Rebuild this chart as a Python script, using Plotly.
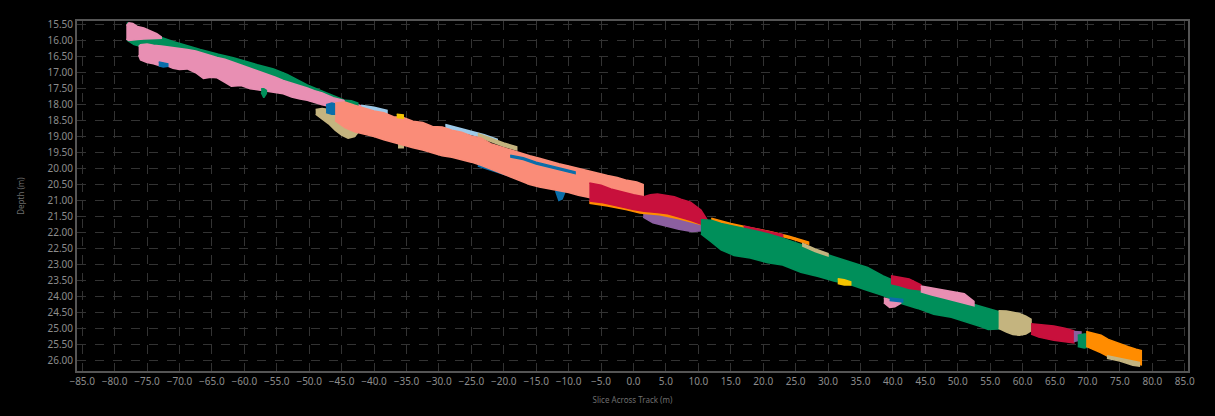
import plotly.graph_objects as go

# ---- swath segments (x in m, top / bottom depth in m) ----
G1_X = [-78.1, -77.0, -75.5, -73.0, -71.0, -69.4, -66.8, -64.0, -61.7, -58.0, -55.5, -53.4, -50.3, -47.5, -44.7]
G1_TOP = [15.43, 15.7, 15.82, 15.88, 16.02, 16.12, 16.27, 16.42, 16.53, 16.75, 16.88, 17.05, 17.38, 17.62, 17.85]
G1_BOT = [15.98, 16.12, 16.2, 16.25, 16.33, 16.38, 16.53, 16.68, 16.83, 17.03, 17.18, 17.33, 17.58, 17.82, 18.02]

P1_X = [-78.2, -77.8, -77.2, -76.5, -75.5, -74.5, -73.5, -72.8]
P1_TOP = [15.52, 15.44, 15.46, 15.55, 15.6, 15.7, 15.78, 15.88]
P1_BOT = [15.95, 15.99, 15.97, 15.96, 15.94, 15.93, 15.93, 15.92]

P2_X = [-76.3, -76.0, -75.0, -74.0, -72.8, -71.9, -71.0, -70.0, -68.8, -67.5, -66.3, -65.2, -64.2, -63.0, -62.0,
        -60.5, -59.1, -57.8, -56.5, -55.2, -54.0, -52.7, -51.4, -50.3, -49.2, -48.0, -46.3, -44.0, -42.1]
P2_TOP = [16.18, 16.12, 16.1, 16.14, 16.16, 16.18, 16.2, 16.22, 16.27, 16.32, 16.4, 16.45, 16.52, 16.58, 16.66,
          16.76, 16.86, 16.95, 17.04, 17.14, 17.24, 17.32, 17.4, 17.48, 17.56, 17.63, 17.78, 17.9, 18.03]
P2_BOT = [16.45, 16.6, 16.68, 16.72, 16.8, 16.78, 16.86, 16.9, 16.88, 17.0, 17.18, 17.14, 17.16, 17.3, 17.42,
          17.4, 17.5, 17.55, 17.6, 17.62, 17.66, 17.76, 17.82, 17.86, 17.92, 18.0, 18.08, 18.15, 18.2]

B0_X = [-73.2, -72.5, -71.8]
B0_TOP = [16.66, 16.68, 16.72]
B0_BOT = [16.78, 16.82, 16.8]

G0_X = [-57.4, -57.0, -56.6]
G0_TOP = [17.5, 17.5, 17.55]
G0_BOT = [17.62, 17.78, 17.65]

T1_X = [-49.0, -48.0, -47.0, -46.0, -45.0, -44.0, -43.0, -42.2]
T1_TOP = [18.15, 18.12, 18.15, 18.2, 18.25, 18.3, 18.35, 18.45]
T1_BOT = [18.3, 18.45, 18.6, 18.8, 18.95, 19.05, 19.0, 18.8]

S_X = [-46, -44.5, -43, -41.5, -40, -38.5, -37, -35.5, -34, -32.5, -31, -29.5, -28, -26.5, -25, -23.5, -22,
       -20.5, -19, -17.5, -16, -14.5, -13, -11.5, -10, -8.5, -7, -5.5, -4, -2.5, -1, 0.5, 1.5]
S_TOP = [17.95, 17.92, 18.02, 18.1, 18.2, 18.25, 18.38, 18.4, 18.52, 18.56, 18.68, 18.7, 18.8, 18.86, 18.98, 19.04,
         19.22, 19.32, 19.42, 19.5, 19.6, 19.68, 19.77, 19.85, 19.92, 20.0, 20.08, 20.14, 20.22, 20.28, 20.37, 20.42, 20.5]
S_BOT = [18.5, 18.72, 18.85, 18.93, 19.0, 19.1, 19.2, 19.27, 19.35, 19.42, 19.5, 19.6, 19.65, 19.72, 19.8, 19.9,
         20.0, 20.14, 20.25, 20.38, 20.5, 20.58, 20.65, 20.7, 20.75, 20.84, 20.9, 20.97, 21.0, 21.03, 21.05, 21.02, 20.9]

T2_X = [-36.3, -35.5]
T2_TOP = [19.0, 19.0]
T2_BOT = [19.35, 19.35]

B1_X = [-47.4, -46.5, -45.5, -44.8]
B1_TOP = [18.0, 17.95, 18.0, 18.1]
B1_BOT = [18.25, 18.3, 18.3, 18.2]

G2_X = [-44.5, -43.5, -42.5]
G2_TOP = [17.86, 17.88, 17.95]
G2_BOT = [18.02, 18.05, 18.06]

LB1_X = [-42, -40, -38]
LB1_TOP = [18.02, 18.08, 18.18]
LB1_BOT = [18.14, 18.2, 18.3]

LB2_X = [-29, -27, -25, -23, -21]
LB2_TOP = [18.62, 18.72, 18.84, 18.94, 19.08]
LB2_BOT = [18.72, 18.82, 18.94, 19.04, 19.2]

T3_X = [-24, -22, -20, -18]
T3_TOP = [18.9, 19.06, 19.2, 19.32]
T3_BOT = [19.0, 19.16, 19.3, 19.42]

Y1_X = [-36.5, -35.5]
Y1_TOP = [18.3, 18.32]
Y1_BOT = [18.4, 18.42]

B2_X = [-19, -17, -15, -13, -11, -9]
B2_TOP = [19.58, 19.66, 19.8, 19.9, 20.0, 20.1]
B2_BOT = [19.64, 19.72, 19.86, 19.96, 20.06, 20.16]

B3_X = [-24, -22, -20, -18]
B3_TOP = [19.86, 19.98, 20.12, 20.25]
B3_BOT = [19.92, 20.04, 20.18, 20.31]

B4_X = [-12.0, -11.5, -11.0, -10.5]
B4_TOP = [20.5, 20.5, 20.55, 20.6]
B4_BOT = [20.7, 21.0, 20.95, 20.7]

PU1_X = [1.5, 3, 5, 7, 9, 10.5]
PU1_TOP = [21.38, 21.43, 21.46, 21.55, 21.65, 21.75]
PU1_BOT = [21.52, 21.7, 21.8, 21.9, 21.97, 21.95]

O1_X = [-6.8, -4, -1, 1, 4, 7, 9, 11, 13]
O1_TOP = [21.02, 21.1, 21.22, 21.32, 21.38, 21.5, 21.6, 21.72, 21.82]
O1_BOT = [21.09, 21.17, 21.29, 21.39, 21.45, 21.57, 21.67, 21.79, 21.89]

C1_X = [-6.8, -5, -3.5, -2, 0, 1.6, 2.6, 3.7, 5.3, 6.3, 7.3, 8.8, 10.4, 11.4]
C1_TOP = [20.45, 20.52, 20.64, 20.72, 20.82, 20.88, 20.82, 20.8, 20.84, 20.88, 20.96, 21.05, 21.3, 21.62]
C1_BOT = [21.02, 21.06, 21.12, 21.2, 21.28, 21.34, 21.36, 21.38, 21.42, 21.48, 21.54, 21.62, 21.74, 21.76]

G3_X = [10.4, 12, 13.5, 15.5, 18, 20.7, 23, 25.8, 28.5, 30.9, 33.5, 36.1, 38.5, 41.2, 43.8, 46.3, 49, 51.6,
        53.5, 54.7, 56.7]
G3_TOP = [21.6, 21.62, 21.72, 21.8, 21.92, 22.04, 22.18, 22.38, 22.6, 22.76, 22.92, 23.1, 23.36, 23.6, 23.78,
          23.92, 24.08, 24.2, 24.32, 24.38, 24.5]
G3_BOT = [22.05, 22.3, 22.55, 22.72, 22.8, 22.95, 23.02, 23.25, 23.38, 23.52, 23.64, 23.82, 23.98, 24.22, 24.38,
          24.56, 24.66, 24.82, 24.95, 25.04, 25.02]

O2_X = [12, 15, 18, 21, 24, 27]
O2_TOP = [21.56, 21.72, 21.85, 21.97, 22.12, 22.3]
O2_BOT = [21.62, 21.78, 21.91, 22.03, 22.18, 22.37]

C2_X = [17, 20, 23]
C2_TOP = [21.8, 21.93, 22.07]
C2_BOT = [21.87, 22.0, 22.15]

T4_X = [26, 28, 30]
T4_TOP = [22.34, 22.52, 22.66]
T4_BOT = [22.42, 22.6, 22.74]

Y3_X = [31.5, 32.5, 33.5]
Y3_TOP = [23.45, 23.48, 23.55]
Y3_BOT = [23.6, 23.65, 23.65]

C3_X = [39.7, 41, 42.5, 44.3]
C3_TOP = [23.36, 23.4, 23.46, 23.64]
C3_BOT = [23.6, 23.66, 23.76, 23.8]

P3_X = [44.3, 46, 48, 49, 51, 52.5]
P3_TOP = [23.68, 23.74, 23.8, 23.83, 23.92, 24.16]
P3_BOT = [23.86, 23.96, 24.06, 24.1, 24.22, 24.3]

P4_X = [38.6, 39.5, 40.3, 41.2]
P4_TOP = [24.05, 24.1, 24.15, 24.15]
P4_BOT = [24.2, 24.35, 24.33, 24.22]

B5_X = [39.5, 41.5]
B5_TOP = [24.05, 24.1]
B5_BOT = [24.13, 24.18]

T5_X = [56.3, 57.5, 58.5, 59.5, 60.5, 61.3]
T5_TOP = [24.45, 24.46, 24.5, 24.54, 24.62, 24.72]
T5_BOT = [25.0, 25.12, 25.2, 25.22, 25.18, 25.08]

C4_X = [61.3, 62.5, 64.8, 66.5, 67.9]
C4_TOP = [24.86, 24.88, 24.93, 25.0, 25.08]
C4_BOT = [25.18, 25.28, 25.38, 25.42, 25.46]

PU2_X = [67.9, 69]
PU2_TOP = [25.1, 25.12]
PU2_BOT = [25.42, 25.37]

G4_X = [68.5, 69.5, 70.6]
G4_TOP = [25.22, 25.18, 25.18]
G4_BOT = [25.57, 25.62, 25.57]

O3_X = [69.8, 71, 72.1, 73.2, 74.7, 76.3, 77.5, 78.3]
O3_TOP = [25.1, 25.15, 25.22, 25.35, 25.47, 25.58, 25.66, 25.7]
O3_BOT = [25.57, 25.67, 25.77, 25.89, 25.97, 26.06, 26.12, 26.15]

T6_X = [73, 75, 77, 78]
T6_TOP = [25.86, 25.94, 26.04, 26.07]
T6_BOT = [25.94, 26.03, 26.16, 26.19]

PINK = "#E88FB3"
GREEN = "#008F5A"
SALMON = "#FA8C78"
TAN = "#C4B47F"
CRIMSON = "#C8103C"
PURPLE = "#8C5FA0"
ORANGE = "#FF8C00"
BLUE = "#0A6EAA"
LBLUE = "#9ECAE9"
YELLOW = "#F5C400"

SEGMENTS = [
    (G1_X, G1_TOP, G1_BOT, GREEN),
    (P1_X, P1_TOP, P1_BOT, PINK),
    (P2_X, P2_TOP, P2_BOT, PINK),
    (B0_X, B0_TOP, B0_BOT, BLUE),
    (G0_X, G0_TOP, G0_BOT, GREEN),
    (T1_X, T1_TOP, T1_BOT, TAN),
    (B1_X, B1_TOP, B1_BOT, BLUE),
    (G2_X, G2_TOP, G2_BOT, GREEN),
    (T2_X, T2_TOP, T2_BOT, TAN),
    (B4_X, B4_TOP, B4_BOT, BLUE),
    (LB1_X, LB1_TOP, LB1_BOT, LBLUE),
    (LB2_X, LB2_TOP, LB2_BOT, LBLUE),
    (T3_X, T3_TOP, T3_BOT, TAN),
    (B3_X, B3_TOP, B3_BOT, BLUE),
    (S_X, S_TOP, S_BOT, SALMON),
    (Y1_X, Y1_TOP, Y1_BOT, YELLOW),
    (B2_X, B2_TOP, B2_BOT, BLUE),
    (PU1_X, PU1_TOP, PU1_BOT, PURPLE),
    (O1_X, O1_TOP, O1_BOT, ORANGE),
    (C1_X, C1_TOP, C1_BOT, CRIMSON),
    (O2_X, O2_TOP, O2_BOT, ORANGE),
    (C2_X, C2_TOP, C2_BOT, CRIMSON),
    (G3_X, G3_TOP, G3_BOT, GREEN),
    (T4_X, T4_TOP, T4_BOT, TAN),
    (Y3_X, Y3_TOP, Y3_BOT, YELLOW),
    (C3_X, C3_TOP, C3_BOT, CRIMSON),
    (P3_X, P3_TOP, P3_BOT, PINK),
    (P4_X, P4_TOP, P4_BOT, PINK),
    (B5_X, B5_TOP, B5_BOT, BLUE),
    (T5_X, T5_TOP, T5_BOT, TAN),
    (C4_X, C4_TOP, C4_BOT, CRIMSON),
    (PU2_X, PU2_TOP, PU2_BOT, PURPLE),
    (G4_X, G4_TOP, G4_BOT, GREEN),
    (O3_X, O3_TOP, O3_BOT, ORANGE),
    (T6_X, T6_TOP, T6_BOT, TAN),
]

fig = go.Figure()
for xs, tops, bots, col in SEGMENTS:
    fig.add_trace(go.Scatter(
        x=list(xs) + list(xs)[::-1],
        y=list(tops) + list(bots)[::-1],
        mode="lines", fill="toself", fillcolor=col,
        line=dict(color=col, width=1.5),
        hoverinfo="skip", showlegend=False))

FONT = "Noto Sans, Open Sans, sans-serif"
axis_common = dict(
    showgrid=True, gridcolor="#333333", griddash="dash", gridwidth=1,
    zeroline=False, showline=True, linecolor="#555555", linewidth=2, mirror=True,
    ticks="", tickfont=dict(family=FONT, size=10, color="#8c8c8c"),
)
fig.update_layout(
    width=1215, height=416,
    paper_bgcolor="#000000", plot_bgcolor="#000000",
    margin=dict(l=77, r=27, t=21, b=39),
    xaxis=dict(range=[-85.8, 85.5], tick0=-85, dtick=5, tickformat=".1f",
               title=dict(text="Slice Across Track (m)", font=dict(family=FONT, size=8, color="#6e6e6e"), standoff=10),
               **axis_common),
    yaxis=dict(range=[26.34, 15.38], tick0=15.5, dtick=0.5, tickformat=".2f",
               title=dict(text="Depth (m)", font=dict(family=FONT, size=8, color="#6e6e6e"), standoff=22),
               **axis_common),
)
fig.write_html("out.html")
